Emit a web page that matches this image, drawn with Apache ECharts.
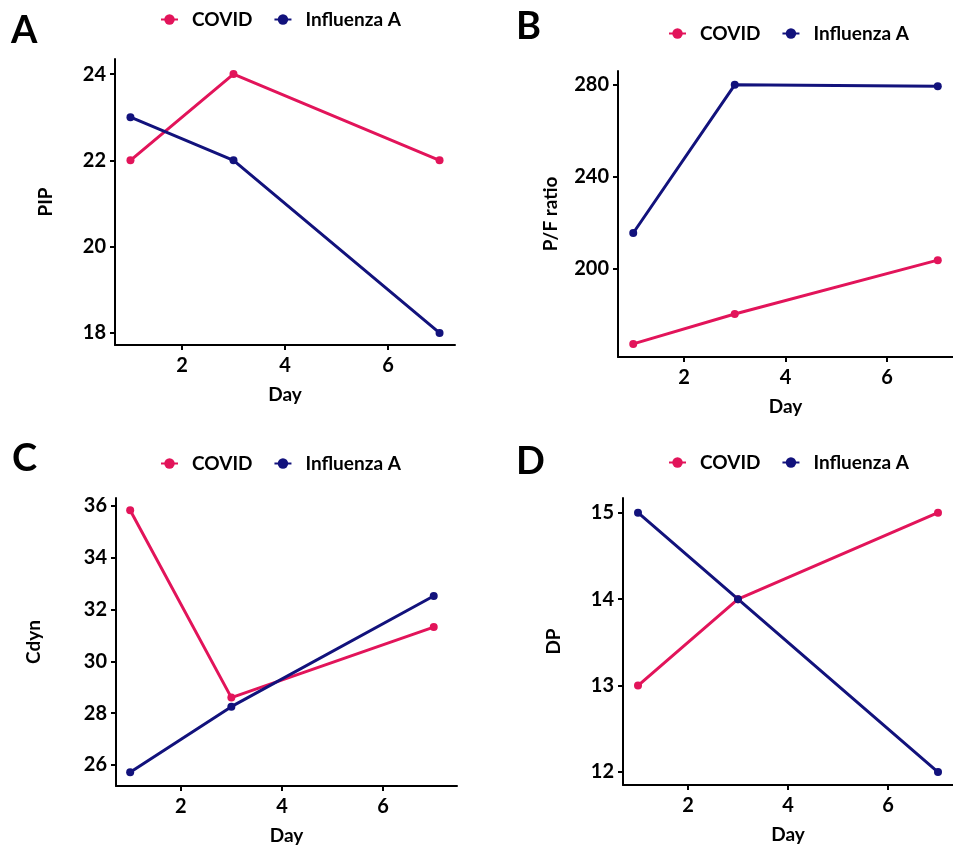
<!DOCTYPE html>
<html>
<head>
<meta charset="utf-8">
<script src="https://cdn.jsdelivr.net/npm/echarts@6/dist/echarts.min.js"></script>
<style>html,body{margin:0;padding:0;background:#fff}#c{width:953px;height:850px}</style>
</head>
<body>
<div id="c"></div>
<script>
const days = [1, 3, 7];
const seriesNames = ['COVID', 'Influenza A'];
const pipCovid = [22, 24, 22];
const pipFlu = [23, 22, 18];
const pfCovid = [167.4, 180.4, 203.8];
const pfFlu = [215.6, 280, 279.4];
const cdynCovid = [35.83, 28.6, 31.32];
const cdynFlu = [25.72, 28.25, 32.52];
const dpCovid = [13, 14, 15];
const dpFlu = [15, 14, 12];
const xTicks = [2, 4, 6];
const pipTicks = [18, 20, 22, 24];
const pfTicks = [200, 240, 280];
const cdynTicks = [26, 28, 30, 32, 34, 36];
const dpTicks = [12, 13, 14, 15];
const yNames = ['PIP', 'P/F ratio', 'Cdyn', 'DP'];
const panelLetters = ['A', 'B', 'C', 'D'];

const FONT = 'Lato, "Open Sans", sans-serif';
const RED = '#E2145A';
const NAVY = '#12127C';

const grids = [
  {left: 115, top: 59, width: 340, height: 286},
  {left: 618, top: 71, width: 335, height: 286},
  {left: 116, top: 498, width: 341, height: 288},
  {left: 623, top: 498, width: 340, height: 287}
];
const xRanges = [[0.7, 7.3], [0.7, 7.3], [0.72, 7.46], [0.7, 7.3]];
const yRanges = [[17.72, 24.35], [161.7, 286], [25.19, 36.3], [11.85, 15.17]];
const yTickSets = [pipTicks, pfTicks, cdynTicks, dpTicks];
const yNameGaps = [60, 58, 73, 60];
const legendPos = [
  {left: 160, top: 10}, {left: 668, top: 24}, {left: 160, top: 454}, {left: 668, top: 453}
];
const letterPos = [[11, 12], [516, 8], [12, 440], [516, 443]];
const data = [[pipCovid, pipFlu], [pfCovid, pfFlu], [cdynCovid, cdynFlu], [dpCovid, dpFlu]];

const axisCommon = {
  axisLine: {show: true, lineStyle: {color: '#000', width: 2}},
  axisTick: {show: true, length: 5, lineStyle: {color: '#000', width: 2}},
  splitLine: {show: false},
  axisLabel: {color: '#000', fontFamily: FONT, fontWeight: 'bold', fontSize: 20}
};

const xAxis = [], yAxis = [], series = [], legend = [], graphic = [];
for (let i = 0; i < 4; i++) {
  xAxis.push({
    type: 'value', gridIndex: i, min: xRanges[i][0], max: xRanges[i][1],
    name: 'Day', nameLocation: 'middle', nameGap: 40,
    nameTextStyle: {color: '#000', fontFamily: FONT, fontWeight: 'bold', fontSize: 19},
    axisLine: axisCommon.axisLine, splitLine: axisCommon.splitLine,
    axisTick: Object.assign({customValues: xTicks}, axisCommon.axisTick),
    axisLabel: Object.assign({customValues: xTicks, margin: 11}, axisCommon.axisLabel)
  });
  yAxis.push({
    type: 'value', gridIndex: i, min: yRanges[i][0], max: yRanges[i][1],
    name: yNames[i], nameLocation: 'middle', nameGap: yNameGaps[i], nameRotate: 90,
    nameTextStyle: {color: '#000', fontFamily: FONT, fontWeight: 'bold', fontSize: 19},
    axisLine: axisCommon.axisLine, splitLine: axisCommon.splitLine,
    axisTick: Object.assign({customValues: yTickSets[i]}, axisCommon.axisTick),
    axisLabel: Object.assign({customValues: yTickSets[i], margin: 9}, axisCommon.axisLabel)
  });
  const colors = [RED, NAVY];
  for (let s = 0; s < 2; s++) {
    series.push({
      type: 'line', name: seriesNames[s], xAxisIndex: i, yAxisIndex: i,
      data: days.map((d, k) => [d, data[i][s][k]]),
      symbol: 'circle', symbolSize: 8, showSymbol: true,
      lineStyle: {color: colors[s], width: 3},
      itemStyle: {color: colors[s]},
      emphasis: {disabled: true}, animation: false
    });
  }
  legend.push({
    data: seriesNames, left: legendPos[i].left, top: legendPos[i].top,
    orient: 'horizontal', itemWidth: 17, itemHeight: 13, itemGap: 21, padding: 0,
    selectedMode: false,
    textStyle: {color: '#000', fontFamily: FONT, fontWeight: 'bold', fontSize: 19, padding: [0, 0, 0, 9]}
  });
  graphic.push({
    type: 'text', left: letterPos[i][0], top: letterPos[i][1],
    style: {text: panelLetters[i], fill: '#000', font: 'bold 38px ' + FONT}
  });
}

const chart = echarts.init(document.getElementById('c'), null, {renderer: 'canvas'});
chart.setOption({
  animation: false,
  backgroundColor: '#fff',
  grid: grids,
  xAxis: xAxis,
  yAxis: yAxis,
  legend: legend,
  series: series,
  graphic: graphic
});
</script>
</body>
</html>
